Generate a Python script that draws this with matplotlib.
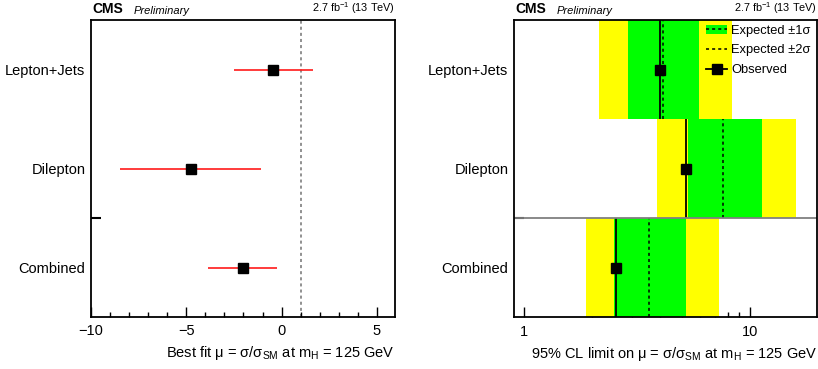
import matplotlib
matplotlib.use("Agg")
import matplotlib.pyplot as plt
from matplotlib.lines import Line2D
from matplotlib.patches import Patch

plt.rcParams["font.family"] = ["Liberation Sans", "DejaVu Sans"]
plt.rcParams["mathtext.fontset"] = "custom"
plt.rcParams["mathtext.rm"] = "Liberation Sans"
plt.rcParams["mathtext.it"] = "Liberation Sans:italic"
plt.rcParams["mathtext.bf"] = "Liberation Sans:bold"

# channels, top to bottom
CHANNELS = ["Lepton+Jets", "Dilepton", "Combined"]

# best fit signal strength and its 68% interval
MU_BEST = [-0.45, -4.75, -2.05]
MU_LO = [-2.5, -8.5, -3.85]
MU_HI = [1.65, -1.1, -0.25]

# 95% CL upper limits on mu
LIM_OBS = [3.99, 5.21, 2.56]
LIM_EXP = [4.13, 7.62, 3.59]
LIM_1S_LO = [2.88, 5.30, 2.51]
LIM_1S_HI = [5.96, 11.3, 5.20]
LIM_2S_LO = [2.15, 3.87, 1.88]
LIM_2S_HI = [8.38, 16.1, 7.29]

FS = 10.5


def header(ax):
    ax.text(0.005, 1.012, "CMS", transform=ax.transAxes, fontsize=10,
            fontweight="bold", ha="left", va="bottom")
    ax.text(0.14, 1.012, "Preliminary", transform=ax.transAxes, fontsize=8,
            style="italic", ha="left", va="bottom")
    ax.text(1.0, 1.012, r"2.7 fb$^{\mathdefault{-1}}$ (13 TeV)",
            transform=ax.transAxes, fontsize=7.8, ha="right", va="bottom")


def style_y(ax):
    n = len(CHANNELS)
    ypos = [n - 0.5 - i for i in range(n)]
    ax.set_ylim(0, n)
    ax.set_yticks(ypos, CHANNELS)
    ax.set_yticks([1], minor=True)
    ax.tick_params(axis="y", which="major", length=0, pad=4, labelsize=FS)
    ax.tick_params(axis="y", which="minor", direction="in", length=7,
                   width=1.5, color="black")
    for s in ax.spines.values():
        s.set_linewidth(1.3)
    return ypos


def main():
    fig = plt.figure(figsize=(8.18, 3.69), dpi=100)
    ax1 = fig.add_axes([0.1112, 0.1409, 0.3717, 0.8049])
    ax2 = fig.add_axes([0.6284, 0.1409, 0.3704, 0.8049])

    # ---- left: best fit mu
    ypos = style_y(ax1)
    xerr = [[b - lo for b, lo in zip(MU_BEST, MU_LO)],
            [hi - b for b, hi in zip(MU_BEST, MU_HI)]]
    ax1.axvline(1.0, color="0.45", ls=(0, (2, 2)), lw=1.1, zorder=1)
    ax1.errorbar(MU_BEST, ypos, xerr=xerr, fmt="s", color="black", ms=6.5,
                 ecolor="#ff1a1a", elinewidth=1.2, capsize=0, zorder=3)
    ax1.set_xlim(-10, 5.95)
    ax1.set_xticks([-10, -5, 0, 5], ["\u221210", "\u22125", "0", "5"])
    ax1.set_xticks(range(-10, 6), minor=True)
    ax1.tick_params(axis="x", which="major", direction="in", length=7,
                    width=1, labelsize=FS, pad=5)
    ax1.tick_params(axis="x", which="minor", direction="in", length=3.5,
                    width=1)
    ax1.set_xlabel("Best fit \u03bc = \u03c3/\u03c3$_{\\mathrm{SM}}$ at "
                   "m$_{\\mathrm{H}}$ = 125 GeV", fontsize=FS, loc="right")
    header(ax1)

    # ---- right: 95% CL limits
    ypos = style_y(ax2)
    ax2.set_axisbelow(True)
    for i, y in enumerate(ypos):
        ax2.barh(y, LIM_2S_HI[i] - LIM_2S_LO[i], left=LIM_2S_LO[i], height=1,
                 color="#ffff00", lw=0, zorder=1)
        ax2.barh(y, LIM_1S_HI[i] - LIM_1S_LO[i], left=LIM_1S_LO[i], height=1,
                 color="#00ff00", lw=0, zorder=1.1)
    ax2.vlines(LIM_EXP, [y - 0.5 for y in ypos], [y + 0.5 for y in ypos],
               colors="black", linestyles=(0, (2, 2)), lw=1.1, zorder=2)
    ax2.vlines(LIM_OBS, [y - 0.5 for y in ypos], [y + 0.5 for y in ypos],
               colors="black", lw=1.3, zorder=2)
    ax2.plot(LIM_OBS, ypos, "s", color="black", ms=6.5, zorder=3)
    ax2.axhline(1.0, color="0.5", lw=1.3, zorder=2)
    ax2.set_xscale("log")
    ax2.set_xlim(0.9, 19.9)
    ax2.set_xticks([1, 10], ["1", "10"])
    ax2.set_xticks([2, 3, 4, 5, 6, 7, 8, 9], minor=True)
    ax2.xaxis.set_minor_formatter(plt.NullFormatter())
    ax2.tick_params(axis="x", which="major", direction="in", length=7,
                    width=1, labelsize=FS, pad=6)
    ax2.tick_params(axis="x", which="minor", direction="in", length=3.5,
                    width=1)
    ax2.set_xlabel("95% CL limit on \u03bc = \u03c3/\u03c3$_{\\mathrm{SM}}$ "
                   "at m$_{\\mathrm{H}}$ = 125 GeV", fontsize=FS, loc="right")
    header(ax2)

    handles = [
        (Patch(facecolor="#00ff00", edgecolor="none"),
         Line2D([], [], color="black", ls=(0, (2, 2)), lw=1.1)),
        Line2D([], [], color="black", ls=(0, (2, 2)), lw=1.1),
        Line2D([], [], color="black", lw=1.3, marker="s", ms=6.5),
    ]
    labels = ["Expected \u00b11\u03c3", "Expected \u00b12\u03c3", "Observed"]
    ax2.legend(handles, labels, loc="upper left", bbox_to_anchor=(0.62, 1.0),
               frameon=False, fontsize=9.3, handlelength=1.6,
               handletextpad=0.3, borderaxespad=0.1, borderpad=0.25,
               labelspacing=0.6)

    fig.savefig("out.png", dpi=100)
    plt.close(fig)


if __name__ == "__main__":
    main()
